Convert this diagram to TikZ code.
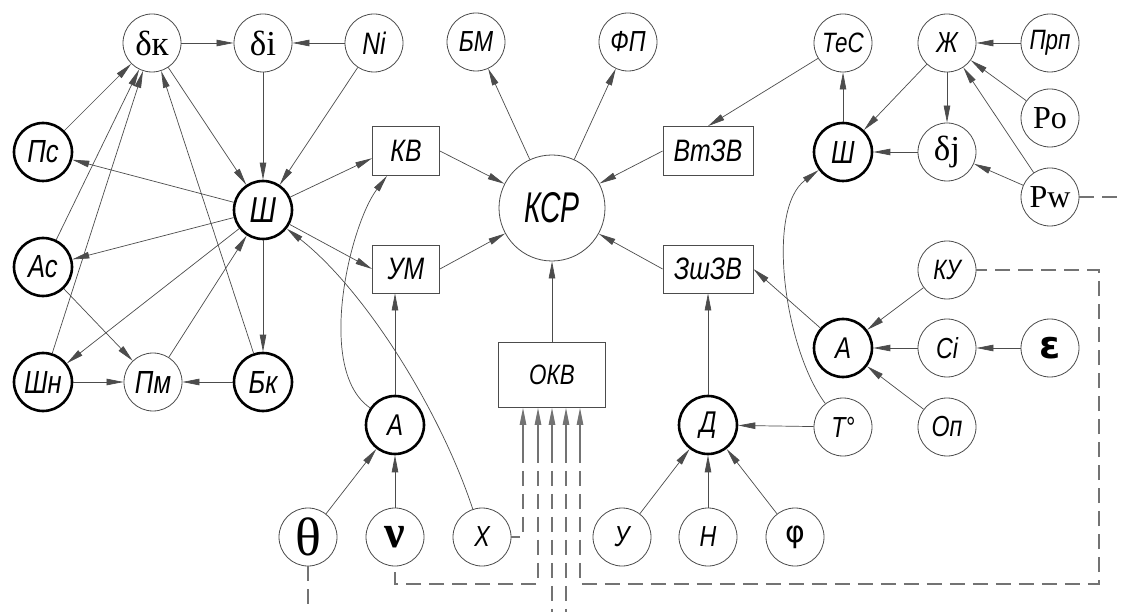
\documentclass[tikz,border=0pt]{standalone}
\usepackage{fontspec}
\setmainfont{Liberation Serif}
\newfontfamily\gost[FakeStretch=0.8]{Liberation Sans}
\newfontfamily\gostn[FakeStretch=0.66]{Liberation Sans}
\newfontfamily\dvs{DejaVu Sans}
\usetikzlibrary{arrows.meta}
\newcommand{\Gf}[1]{\gost\itshape\fontsize{#1}{#1}\selectfont}
\newcommand{\Sf}[1]{\fontsize{#1}{#1}\selectfont}
\tikzset{
  cn/.style={circle, draw=black!70, line width=0.8pt, minimum size=58pt, inner sep=0pt},
  tk/.style={cn, draw=black, line width=2.6pt},
  bx/.style={rectangle, draw=black!70, line width=0.8pt, inner sep=0pt},
  gf/.style={font={\Gf{#1}}},
  sf/.style={font={\Sf{#1}}},
  ar/.style={draw=black!70, line width=0.7pt, -{Triangle[length=17pt,width=6.5pt]}},
  ds/.style={draw=black!55, line width=1.1pt, dash pattern=on 15pt off 8pt},
  sol/.style={draw=black!55, line width=1.1pt},
  inar/.style={sol, {Triangle[length=17pt,width=6.5pt]}-},
}
\begin{document}
\begin{tikzpicture}[x=1pt,y=-1pt]
\fill[white] (0,0) rectangle (1122,612);
\useasboundingbox (0,0) rectangle (1122,612);
% left cluster
\node[cn,sf=35] (dk) at (152,43) {δк};
\node[cn,sf=35] (di) at (263,43) {δi};
\node[cn,gf=31] (Ni) at (374,43) {Ni};
\node[tk,gf=32] (Ps) at (43,152) {Пс};
\node[tk,gf=36] (Sh) at (263,210) {Ш};
\node[tk,gf=32] (As) at (43,267) {Ас};
\node[tk,gf=32] (Shn) at (43,382) {Шн};
\node[cn,gf=32] (Pm) at (153,382) {Пм};
\node[tk,gf=32] (Bk) at (263,382) {Бк};
% centre
\node[cn,gf=29] (BM) at (476,42) {БМ};
\node[cn,gf=29] (FP) at (628,42) {ФП};
\node[bx,gf=31,minimum width=67pt,minimum height=49pt] (KV) at (406,151) {КВ};
\node[bx,gf=31,minimum width=67pt,minimum height=48pt] (UM) at (406,269) {УМ};
\node[cn,font={\gostn\itshape\Sf{43}},minimum size=106pt] (KSR) at (552,208) {КСР};
\node[bx,gf=31,minimum width=90pt,minimum height=49pt] (VtZV) at (708,151) {ВтЗВ};
\node[bx,gf=31,minimum width=90pt,minimum height=48pt] (ZshZV) at (708,269) {ЗшЗВ};
\node[bx,gf=28,minimum width=107pt,minimum height=65pt] (OKV) at (552,375) {ОКВ};
% right cluster
\node[cn,gf=28] (TeS) at (843,43) {ТеС};
\node[cn,gf=29] (Zh) at (947,43) {Ж};
\node[cn,gf=28] (Prp) at (1050,43) {Прп};
\node[tk,gf=32] (Sh2) at (843,152) {Ш};
\node[cn,sf=35] (dj) at (947,152) {δj};
\node[cn,sf=32] (Po) at (1050,118) {Po};
\node[cn,sf=32] (Pw) at (1050,197) {Pw};
\node[cn,gf=28] (KU) at (947,270) {КУ};
\node[tk,gf=30] (A2) at (843,348) {А};
\node[cn,gf=29] (Ci) at (947,348) {Ci};
\node[cn,font={\dvs\bfseries\Sf{38}}] (eps) at (1050,348) {ε};
\node[cn,gf=29] (T) at (843,427) {Т°};
\node[cn,gf=29] (Op) at (947,427) {Оп};
% bottom
\node[tk,gf=30] (A1) at (395,425) {А};
\node[cn,sf=54] (th) at (308,537) {θ};
\node[cn,font={\bfseries\Sf{46}}] (nu) at (395,537) {ν};
\node[cn,gf=29] (X) at (482,537) {Х};
\node[cn,gf=29] (Y) at (622,537) {У};
\node[cn,gf=29] (H) at (708,537) {Н};
\node[cn,font={\dvs\Sf{30}}] (phi) at (795,537) {φ};
\node[tk,gf=30] (D) at (708,425) {Д};
% helper coordinates
\coordinate (ybot) at (0,584);
\coordinate (edge) at (0,612);
\coordinate (rc) at (1099,0);
\coordinate (redge) at (1122,0);
\coordinate (o1) at ([xshift=-29pt]OKV.south);
\coordinate (o2) at ([xshift=-14pt]OKV.south);
\coordinate (o3) at (OKV.south);
\coordinate (o4) at ([xshift=14pt]OKV.south);
\coordinate (o5) at ([xshift=28pt]OKV.south);
\coordinate (s1) at ([yshift=-40pt]o1);
\coordinate (s2) at ([yshift=-40pt]o2);
\coordinate (s3) at ([yshift=-40pt]o3);
\coordinate (s4) at ([yshift=-40pt]o4);
\coordinate (s5) at ([yshift=-40pt]o5);
% left cluster edges
\draw[ar] (dk) -- (di);
\draw[ar] (Ni) -- (di);
\draw[ar] (di) -- (Sh);
\draw[ar] (Ni) -- (Sh);
\draw[ar] (dk) -- (Sh);
\draw[ar] (Bk) -- (dk);
\draw[ar] (Ps) -- (dk);
\draw[ar] (As) -- (dk);
\draw[ar] (Shn) -- (dk);
\draw[ar] (Sh) -- (Ps);
\draw[ar] (Sh) -- (As);
\draw[ar] (Sh) -- (Shn);
\draw[ar] (Pm) -- (Sh);
\draw[ar] (As) -- (Pm);
\draw[ar] (Shn) -- (Pm);
\draw[ar] (Bk) -- (Pm);
\draw[ar] (Sh) -- (Bk);
\draw[ar] (Sh) -- (KV.192);
\draw[ar] (Sh) -- (UM.west);
\draw[ar] (X) .. controls (440,410) and (365,290) .. (Sh);
\draw[ar] (A1) .. controls (315,370) and (350,225) .. ([xshift=-19pt]KV.south);
\draw[ar] (A1) -- (A1 |- UM.south);
\draw[ar] (th) -- (A1);
\draw[ar] (nu) -- (A1);
% centre edges
\draw[ar] (KV.east) -- (KSR);
\draw[ar] (UM.east) -- (KSR);
\draw[ar] (VtZV.west) -- (KSR);
\draw[ar] (ZshZV.west) -- (KSR);
\draw[ar] (OKV) -- (KSR);
\draw[ar] (KSR) -- (BM);
\draw[ar] (KSR) -- (FP);
% right cluster edges
\draw[ar] (TeS) -- (VtZV.north);
\draw[ar] (Sh2) -- (TeS);
\draw[ar] (Zh) -- (Sh2);
\draw[ar] (Zh) -- (dj);
\draw[ar] (dj) -- (Sh2);
\draw[ar] (Prp) -- (Zh);
\draw[ar] (Po) -- (Zh);
\draw[ar] (Pw) -- (Zh);
\draw[ar] (Pw) -- (dj);
\draw[ar] (T) .. controls (785,350) and (765,210) .. (Sh2);
\draw[ar] (A2) -- (ZshZV.east);
\draw[ar] (KU) -- (A2);
\draw[ar] (Ci) -- (A2);
\draw[ar] (Op) -- (A2);
\draw[ar] (eps) -- (Ci);
\draw[ar] (D) -- (ZshZV);
\draw[ar] (T) -- (D);
\draw[ar] (Y) -- (D);
\draw[ar] (H) -- (D);
\draw[ar] (phi) -- (D);
% dashed links into OKV (solid near the box)
\draw[inar] (o1) -- (s1);
\draw[inar] (o2) -- (s2);
\draw[inar] (o3) -- (s3);
\draw[inar] (o4) -- (s4);
\draw[inar] (o5) -- (s5);
\draw[ds] (s1) |- (X.east);
\draw[ds] (s2) -- (s2 |- ybot) -- (nu.south |- ybot) -- (nu.south);
\draw[ds] (s3) -- (s3 |- edge);
\draw[ds] (s4) -- (s4 |- edge);
\draw[ds] (s5) -- (s5 |- ybot) -- (rc |- ybot) -- (rc |- KU.east) -- (KU.east);
\draw[ds] (th.south) -- (th.south |- edge);
\draw[ds] (Pw.east) -- (Pw.east -| redge);
\end{tikzpicture}
\end{document}
